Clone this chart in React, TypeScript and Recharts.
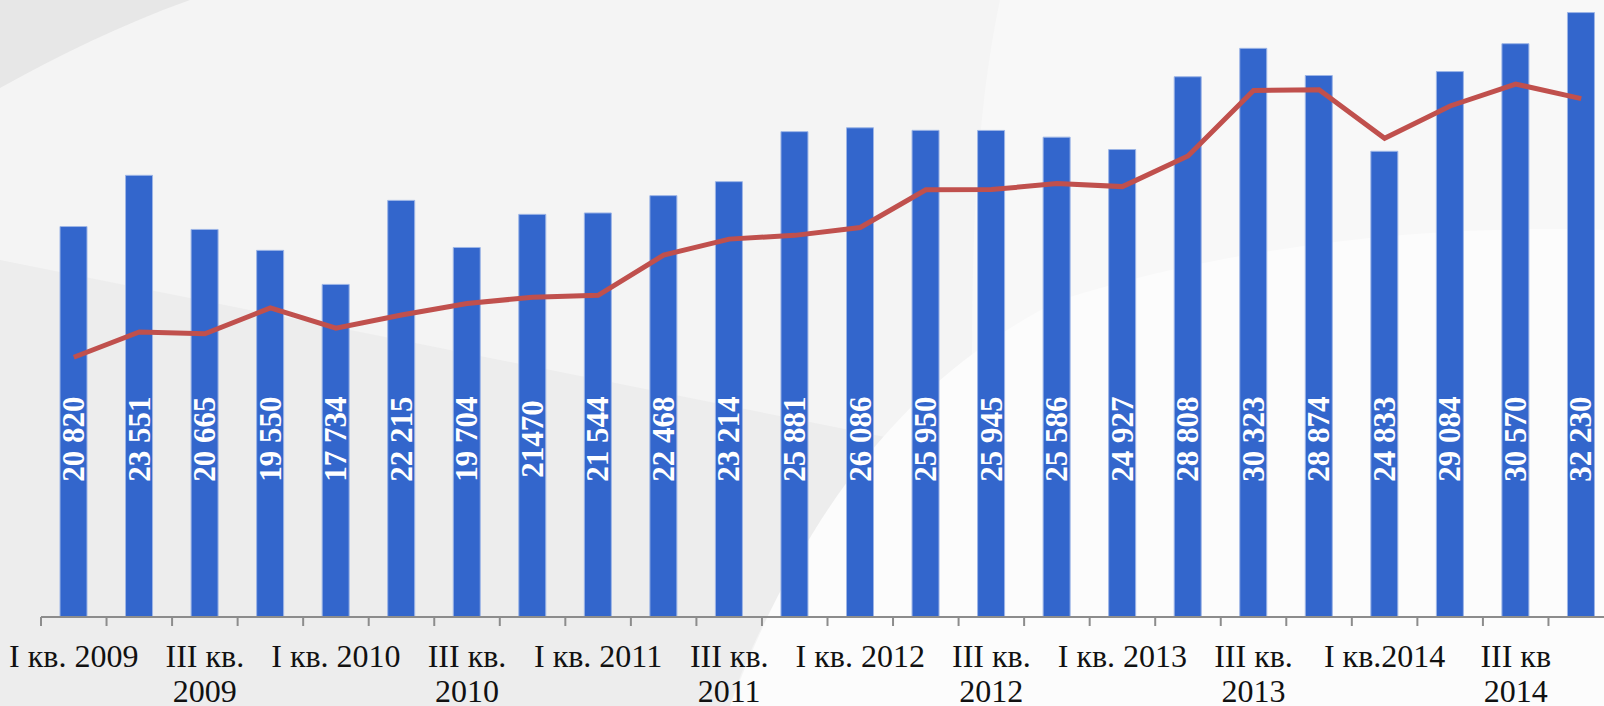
import { ComposedChart, Bar, Line, XAxis, YAxis, LabelList } from "recharts";

// quarters I..IV, 2009..2014
const quarters = [
  "I кв. 2009", "II кв. 2009", "III кв. 2009", "IV кв. 2009",
  "I кв. 2010", "II кв. 2010", "III кв. 2010", "IV кв. 2010",
  "I кв. 2011", "II кв. 2011", "III кв. 2011", "IV кв. 2011",
  "I кв. 2012", "II кв. 2012", "III кв. 2012", "IV кв. 2012",
  "I кв. 2013", "II кв. 2013", "III кв. 2013", "IV кв. 2013",
  "I кв. 2014", "II кв. 2014", "III кв. 2014", "IV кв. 2014",
];

const barValues = [
  20820, 23551, 20665, 19550, 17734, 22215, 19704, 21470, 21544, 22468, 23214, 25881,
  26086, 25950, 25945, 25586, 24927, 28808, 30323, 28874, 24833, 29084, 30570, 32230,
];

const barLabels = [
  "20 820", "23 551", "20 665", "19 550", "17 734", "22 215", "19 704", "21470",
  "21 544", "22 468", "23 214", "25 881", "26 086", "25 950", "25 945", "25 586",
  "24 927", "28 808", "30 323", "28 874", "24 833", "29 084", "30 570", "32 230",
];

const lineValues = [
  13850, 15200, 15100, 16480, 15400, 16100, 16720, 17050, 17150, 19300, 20150, 20350,
  20770, 22780, 22790, 23110, 22950, 24580, 28070, 28120, 25530, 27250, 28420, 27640,
];

// axis labels, shown on every second quarter
const tickLabels = [
  "I кв. 2009", "", "III кв.\n2009", "",
  "I кв. 2010", "", "III кв.\n2010", "",
  "I кв. 2011", "", "III кв.\n2011", "",
  "I кв. 2012", "", "III кв.\n2012", "",
  "I кв. 2013", "", "III кв.\n2013", "",
  "I кв.2014", "", "III кв\n2014", "",
];

const data = quarters.map((q, i) => ({
  name: q,
  value: barValues[i],
  trend: lineValues[i],
  label: barLabels[i],
}));

const serif = "'Liberation Serif', 'Times New Roman', serif";

function QuarterTick(props: any) {
  const { x, y, index, payload } = props;
  const half = payload && payload.offset ? payload.offset : 32.75;
  const lines = (tickLabels[index] || "").split("\n");
  return (
    <g>
      <line x1={x - half} y1={y} x2={x - half} y2={y + 9} stroke="#8c8c8c" strokeWidth={2} />
      <text x={x} y={y + 50} textAnchor="middle" fontFamily={serif} fontSize={32} fill="#111">
        {lines.map((l: string, k: number) => (
          <tspan key={k} x={x} dy={k === 0 ? 0 : 35}>
            {l}
          </tspan>
        ))}
      </text>
    </g>
  );
}

function ValueLabel(props: any) {
  const { x, y, width, height, value } = props;
  const cx = x + width / 2;
  const cy = y + height - 178;
  return (
    <text
      x={cx}
      y={cy}
      transform={`rotate(-90 ${cx} ${cy})`}
      textAnchor="middle"
      dominantBaseline="central"
      fontFamily={serif}
      fontWeight="bold"
      fontSize={31}
      fill="#fff"
    >
      {value}
    </text>
  );
}

function Backdrop() {
  return (
    <svg width={1604} height={706} style={{ position: "absolute", left: 0, top: 0 }}>
      <rect width={1604} height={706} fill="#f8f8f8" />
      <path d="M0,0 L1000,0 C975,120 960,300 985,706 L0,706 Z" fill="#f4f4f4" />
      <path d="M0,260 L900,440 C820,520 760,610 730,706 L0,706 Z" fill="#ededed" />
      <path d="M730,706 C800,520 900,380 1060,300 C1250,240 1450,225 1604,230 L1604,706 Z" fill="#fcfcfc" />
      <path d="M0,0 L190,0 C120,25 60,55 0,88 Z" fill="#e7e7e7" />
    </svg>
  );
}

export default function App() {
  return (
    <div style={{ position: "relative", width: 1604, height: 706, overflow: "hidden" }}>
      <style>{"body{margin:0;overflow:hidden}"}</style>
      <Backdrop />
      <div style={{ position: "absolute", left: 0, top: 0 }}>
        <ComposedChart
          width={1614}
          height={706}
          data={data}
          margin={{ top: 0, right: 0, bottom: 0, left: 41 }}
          barCategoryGap={0}
        >
          <XAxis
            dataKey="name"
            interval={0}
            height={89}
            tickSize={0}
            tickMargin={0}
            tickLine={false}
            axisLine={{ stroke: "#8c8c8c", strokeWidth: 2 }}
            tick={<QuarterTick />}
          />
          <YAxis hide domain={[0, 32900]} />
          <Bar dataKey="value" fill="#3366cc" stroke="#9db5e6" strokeWidth={1} barSize={27} isAnimationActive={false}>
            <LabelList dataKey="label" content={<ValueLabel />} />
          </Bar>
          <Line
            type="linear"
            dataKey="trend"
            stroke="#c0504d"
            strokeWidth={5}
            dot={false}
            activeDot={false}
            isAnimationActive={false}
          />
        </ComposedChart>
      </div>
    </div>
  );
}
